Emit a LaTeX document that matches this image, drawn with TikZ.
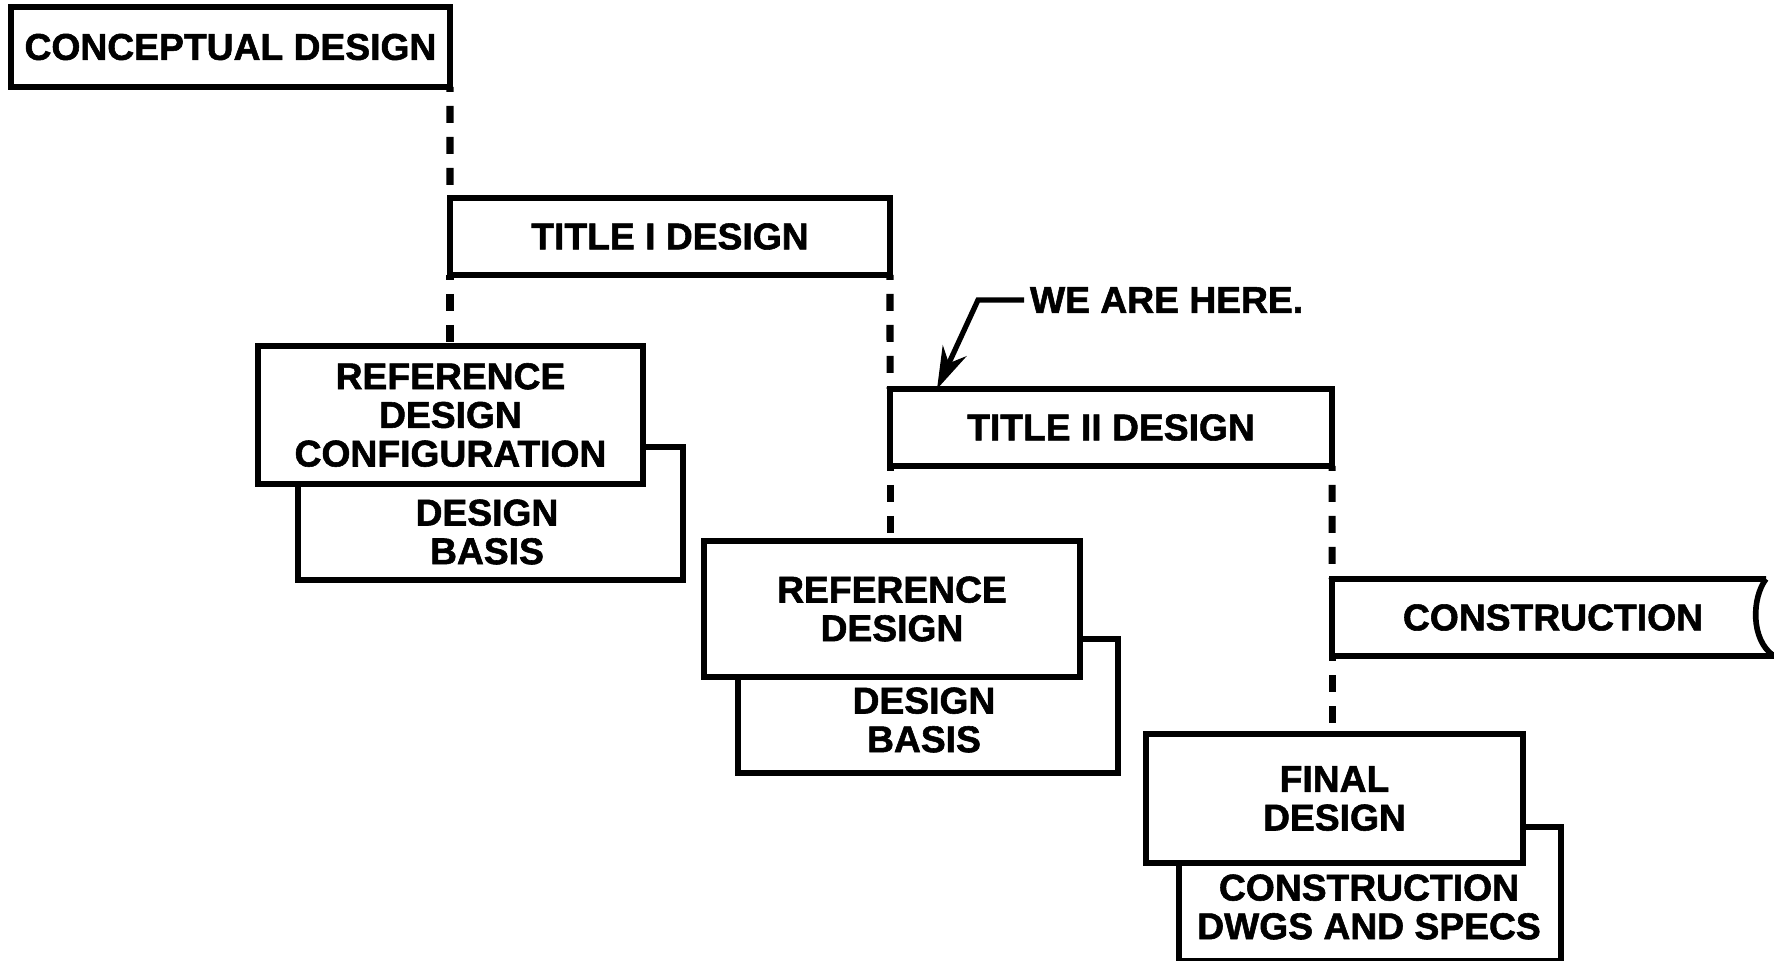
\documentclass[tikz,border=0pt]{standalone}
\usepackage{fontspec}
\setmainfont{Liberation Sans}[BoldFeatures={FakeBold=1.5}]
\usetikzlibrary{positioning}
\usetikzlibrary{calc}
\usetikzlibrary{arrows.meta}
\tikzset{
every node/.style={ % Sets the text of every stage
font=\bfseries\fontsize{10.6}{11}\selectfont,
align=center},
phase/.style={ % Front box of a stage
draw,
line width=1.6pt,
fill=white,
inner sep=0pt,
outer sep=0pt},
backbox/.style={ % Box lying behind a stage
draw,
line width=1.6pt,
fill=white,
inner sep=0pt,
outer sep=0pt},
plain/.style={inner sep=0pt, outer sep=0pt},
link/.style={ % Dashed links between stages
draw,
line width=2pt,
dash pattern=on 1.7mm off 1.4mm,
dash phase=1.2mm},
pointer/.style={
draw,
line width=1.5pt,
-{Stealth[length=4.2mm,width=2.6mm]}}}

\begin{document}
\begin{tikzpicture}[x=0.1mm,y=-0.1mm]
\useasboundingbox (0,0) rectangle (1774,961);
% stages
\node[phase, minimum width=43.9mm, minimum height=8mm] (cd) at (230.5,47) {CONCEPTUAL DESIGN};
\node[phase, minimum width=44mm, minimum height=7.7mm] (t1) at (670,236.5) {TITLE I DESIGN};
\node[phase, minimum width=44.2mm, minimum height=7.7mm] (t2) at (1111,427.5) {TITLE II DESIGN};
\node[plain, minimum width=44.2mm, minimum height=7.7mm] (con) at (1553,617.5) {CONSTRUCTION};
\draw[line width=1.6pt] ($(con.north east)+(-8,0)$) -- (con.north west) -- (con.south west) -- (con.south east)
  .. controls +(-24,-16) and +(-14,18) .. ($(con.north east)+(-8,0)$);
% dashed links
\draw[link] (cd.south east) -- (t1.north west);
\draw[link] (t1.south west) -- (t1.south west |- 0,346);
\draw[link] (t1.south east) -- (t2.north west);
\draw[link] (t2.south west) -- (t2.south west |- 0,541);
\draw[link] (t2.south east) -- (con.north west);
\draw[link] (con.south west) -- (con.south west |- 0,734);
% boxes behind
\node[backbox, minimum width=38.5mm, minimum height=13.3mm] (db1) at (490.5,513.5) {};
\node[backbox, minimum width=38mm, minimum height=13.4mm] (db2) at (928,706) {};
\node[backbox, minimum width=38.2mm, minimum height=13.4mm] (cds) at (1370,894) {};
% boxes in front
\node[phase, minimum width=38.5mm, minimum height=13.8mm] (rdc) at (450.5,415) {REFERENCE\\DESIGN\\CONFIGURATION};
\node[phase, minimum width=37.6mm, minimum height=13.6mm] (rd) at (892,609) {REFERENCE\\DESIGN};
\node[phase, minimum width=37.7mm, minimum height=12.9mm] (fd) at (1334.5,798.5) {FINAL\\DESIGN};
\node[plain] (db1t) at (487,532) {DESIGN\\BASIS};
\node[plain] (db2t) at (924,720) {DESIGN\\BASIS};
\node[plain] (cdst) at (1369,907) {CONSTRUCTION\\DWGS AND SPECS};
% marker
\node[plain, inner xsep=0.6mm, anchor=west] (here) at (1024,300) {WE ARE HERE.};
\draw[pointer] (here.west) -- ++(-46,0) -- ($(t2.north west)+(47,0)$);
\end{tikzpicture}
\end{document}
